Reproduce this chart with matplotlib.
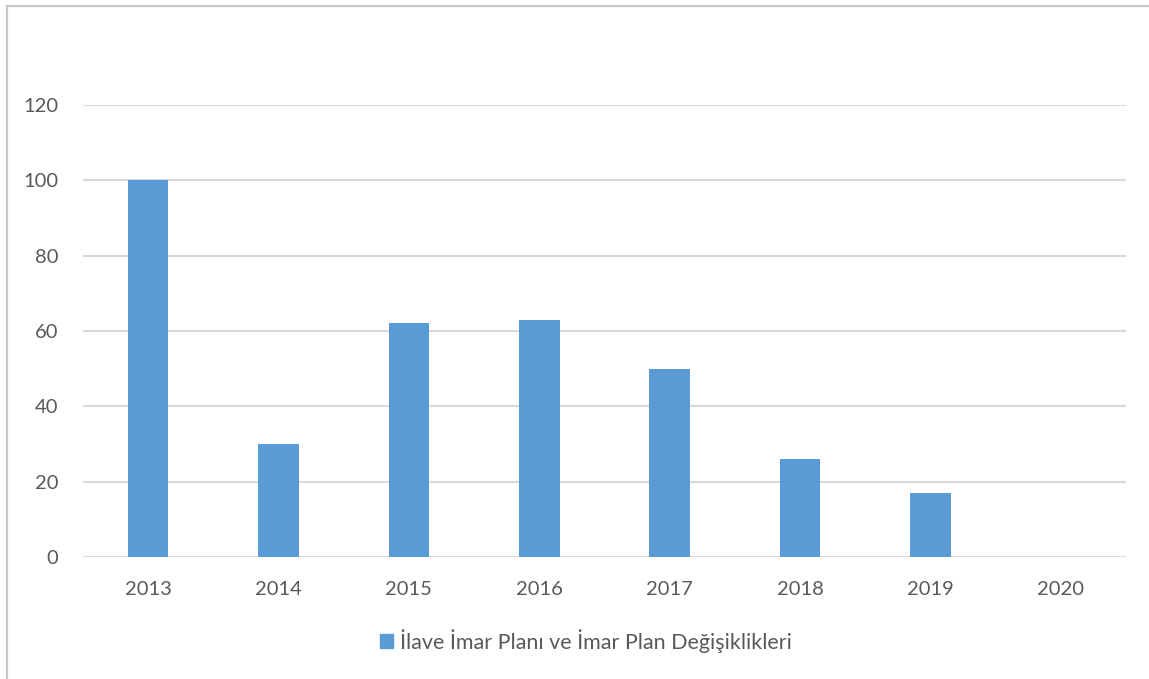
import matplotlib
matplotlib.use("Agg")
import matplotlib.pyplot as plt
from matplotlib.patches import Rectangle
from matplotlib.lines import Line2D

years = ["2013", "2014", "2015", "2016", "2017", "2018", "2019", "2020"]
values = [100, 30, 62, 63, 50, 26, 17, 0]
series_name = "İlave İmar Planı ve İmar Plan Değişiklikleri"
yticks = [0, 20, 40, 60, 80, 100, 120]

plt.rcParams['font.family'] = ['Lato', 'DejaVu Sans']
text_color = "#595959"
bar_color = "#5B9BD5"
grid_color = "#D9D9D9"

fig = plt.figure(figsize=(11.49, 6.79), dpi=100)
ax = fig.add_axes([83/1149, 1 - 557/679, (1126 - 83)/1149, (557 - 105)/679])

x = list(range(len(years)))
ax.bar(x, values, width=0.31, color=bar_color, zorder=3)
ax.set_xlim(-0.5, len(years) - 0.5)
ax.set_ylim(0, 120)
ax.set_yticks(yticks)
ax.set_xticks(x)
ax.set_xticklabels(years)
ax.tick_params(axis='both', length=0, colors=text_color, labelsize=14.5)
ax.tick_params(axis='x', pad=17)
ax.tick_params(axis='y', pad=18)
ax.grid(axis='y', color=grid_color, linewidth=1.5, zorder=0)
for s in ax.spines.values():
    s.set_visible(False)

# outer chart frame (left and top)
fig.add_artist(Line2D([6.5/1149, 6.5/1149], [0, 1 - 5.5/679], color="#C8C8C8", linewidth=1.6, transform=fig.transFigure))
fig.add_artist(Line2D([6.5/1149, 1], [1 - 5.5/679, 1 - 5.5/679], color="#C8C8C8", linewidth=1.6, transform=fig.transFigure))

handle = Rectangle((0, 0), 1, 1, color=bar_color)
fig.legend([handle], [series_name], loc='center', bbox_to_anchor=(586/1149, 1 - 641/679),
           frameon=False, fontsize=15.5, labelcolor=text_color, handlelength=0.6, handleheight=0.6,
           handletextpad=0.35)

fig.savefig("out.png", dpi=100, facecolor="white")
